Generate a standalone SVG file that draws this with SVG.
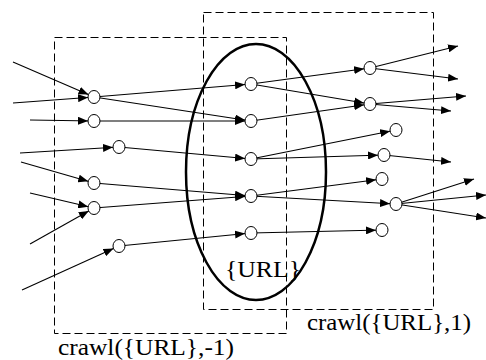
<svg xmlns="http://www.w3.org/2000/svg" width="486" height="360" viewBox="0 0 486 360">
<style>
.box{fill:none;stroke:#000;stroke-width:1;stroke-dasharray:8 4}
.e{stroke:#000;stroke-width:1.1;fill:none}
.n{marker-end:url(#toNode)}
.f{marker-end:url(#free)}
.node{fill:#fff;stroke:#000;stroke-width:1}
.t{font-family:"Liberation Serif","Times New Roman",serif;font-size:23px;fill:#000}
</style>
<defs>
<marker id="toNode" markerUnits="userSpaceOnUse" markerWidth="20" markerHeight="8" refX="16" refY="4" orient="auto"><path d="M0,0 L10,4 L0,8 z" fill="#000"/></marker>
<marker id="free" markerUnits="userSpaceOnUse" markerWidth="10" markerHeight="8" refX="10" refY="4" orient="auto"><path d="M0,0 L10,4 L0,8 z" fill="#000"/></marker>
</defs>
<rect width="486" height="360" fill="#fff"/>
<g id="box-left"><rect class="box" x="54.5" y="37.5" width="232" height="296"/></g>
<g id="box-right"><rect class="box" x="203.5" y="12.5" width="230" height="297"/></g>
<g id="ellipse-url"><ellipse cx="256" cy="172" rx="70" ry="128" fill="none" stroke="#000" stroke-width="2.5"/></g>
<g id="connectors">
<line class="e n" x1="13" y1="62" x2="94" y2="97"/>
<line class="e n" x1="13" y1="103" x2="94" y2="97"/>
<line class="e n" x1="30" y1="120" x2="94" y2="121"/>
<line class="e n" x1="20" y1="153" x2="119" y2="147"/>
<line class="e n" x1="21" y1="162" x2="94" y2="183"/>
<line class="e n" x1="30" y1="193" x2="94" y2="208"/>
<line class="e n" x1="30" y1="244" x2="94" y2="208"/>
<line class="e n" x1="22" y1="290" x2="119" y2="246"/>
<line class="e n" x1="94" y1="97" x2="251" y2="84"/>
<line class="e n" x1="94" y1="97" x2="251" y2="121"/>
<line class="e n" x1="94" y1="121" x2="251" y2="121"/>
<line class="e n" x1="119" y1="147" x2="251" y2="159"/>
<line class="e n" x1="94" y1="183" x2="251" y2="196"/>
<line class="e n" x1="94" y1="208" x2="251" y2="196"/>
<line class="e n" x1="119" y1="246" x2="251" y2="233"/>
<line class="e n" x1="251" y1="84" x2="370" y2="68"/>
<line class="e n" x1="251" y1="84" x2="370" y2="104"/>
<line class="e n" x1="251" y1="121" x2="370" y2="104"/>
<line class="e n" x1="251" y1="159" x2="396" y2="130"/>
<line class="e n" x1="251" y1="159" x2="384" y2="155"/>
<line class="e n" x1="251" y1="196" x2="382" y2="179"/>
<line class="e n" x1="251" y1="196" x2="396" y2="204"/>
<line class="e n" x1="251" y1="233" x2="382" y2="230"/>
<line class="e f" x1="370" y1="68" x2="458" y2="46"/>
<line class="e f" x1="370" y1="68" x2="458" y2="79"/>
<line class="e f" x1="370" y1="104" x2="466" y2="96"/>
<line class="e f" x1="370" y1="104" x2="451" y2="111"/>
<line class="e f" x1="384" y1="155" x2="451" y2="162"/>
<line class="e f" x1="396" y1="204" x2="474" y2="179"/>
<line class="e f" x1="396" y1="204" x2="486" y2="195"/>
<line class="e f" x1="396" y1="204" x2="486" y2="218"/>
</g>
<g id="node-a1"><ellipse class="node" cx="94" cy="97" rx="6" ry="6.5"/></g>
<g id="node-a2"><ellipse class="node" cx="94" cy="121" rx="6" ry="6.5"/></g>
<g id="node-a3"><ellipse class="node" cx="119" cy="147" rx="6" ry="6.5"/></g>
<g id="node-a4"><ellipse class="node" cx="94" cy="183" rx="6" ry="6.5"/></g>
<g id="node-a5"><ellipse class="node" cx="94" cy="208" rx="6" ry="6.5"/></g>
<g id="node-a6"><ellipse class="node" cx="119" cy="246" rx="6" ry="6.5"/></g>
<g id="node-b1"><ellipse class="node" cx="251" cy="84" rx="6" ry="6.5"/></g>
<g id="node-b2"><ellipse class="node" cx="251" cy="121" rx="6" ry="6.5"/></g>
<g id="node-b3"><ellipse class="node" cx="251" cy="159" rx="6" ry="6.5"/></g>
<g id="node-b4"><ellipse class="node" cx="251" cy="196" rx="6" ry="6.5"/></g>
<g id="node-b5"><ellipse class="node" cx="251" cy="233" rx="6" ry="6.5"/></g>
<g id="node-c1"><ellipse class="node" cx="370" cy="68" rx="6" ry="6.5"/></g>
<g id="node-c2"><ellipse class="node" cx="370" cy="104" rx="6" ry="6.5"/></g>
<g id="node-c3"><ellipse class="node" cx="396" cy="130" rx="6" ry="6.5"/></g>
<g id="node-c4"><ellipse class="node" cx="384" cy="155" rx="6" ry="6.5"/></g>
<g id="node-c5"><ellipse class="node" cx="382" cy="179" rx="6" ry="6.5"/></g>
<g id="node-c6"><ellipse class="node" cx="396" cy="204" rx="6" ry="6.5"/></g>
<g id="node-c7"><ellipse class="node" cx="382" cy="230" rx="6" ry="6.5"/></g>
<g id="labels">
<text class="t" x="225" y="277" textLength="76" lengthAdjust="spacingAndGlyphs">{URL}</text>
<text class="t" x="307" y="330" textLength="164" lengthAdjust="spacingAndGlyphs">crawl({URL},1)</text>
<text class="t" x="58" y="355" textLength="176" lengthAdjust="spacingAndGlyphs">crawl({URL},-1)</text>
</g>
</svg>
